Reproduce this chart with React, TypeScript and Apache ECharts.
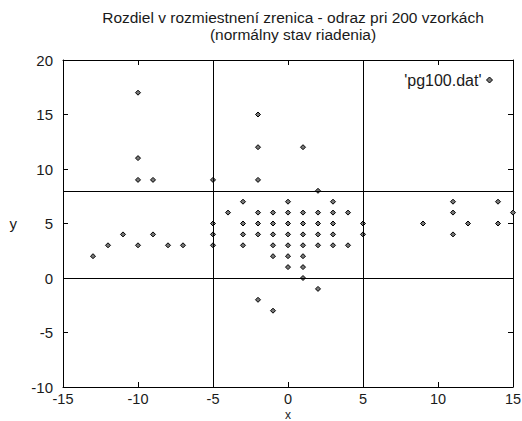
import React, { useEffect, useRef } from "react";
import * as echarts from "echarts";

const xValues = [
  -13, -12, -11, -10, -10, -10, -10, -9, -9, -8, -7,
  -5, -5, -5, -5,
  -4,
  -3, -3, -3, -3,
  -2, -2, -2, -2, -2, -2, -2,
  -1, -1, -1, -1, -1, -1,
  0, 0, 0, 0, 0, 0, 0,
  1, 1, 1, 1, 1, 1, 1, 1,
  2, 2, 2, 2, 2, 2,
  3, 3, 3, 3, 3,
  4, 4,
  5, 5,
  9, 11, 11, 11, 12, 14, 14, 15,
];
const yValues = [
  2, 3, 4, 17, 11, 9, 3, 9, 4, 3, 3,
  9, 5, 4, 3,
  6,
  7, 5, 4, 3,
  15, 12, 9, 6, 5, 4, -2,
  6, 5, 4, 3, 2, -3,
  7, 6, 5, 4, 3, 2, 1,
  12, 6, 5, 4, 3, 2, 1, 0,
  8, 6, 5, 4, 3, -1,
  7, 6, 5, 4, 3,
  6, 3,
  5, 4,
  5, 7, 6, 4, 5, 7, 5, 6,
];
const xRefLines = [-5, 5];
const yRefLines = [0, 8];
const seriesName = "'pg100.dat'";
const titleLines = [
  "Rozdiel v rozmiestnení zrenica - odraz pri 200 vzorkách",
  "(normálny stav riadenia)",
];

const FONT = "'Liberation Sans', Arial, sans-serif";
const TXT = "#1a1a1a";

export default function App() {
  const ref = useRef<HTMLDivElement>(null);
  useEffect(() => {
    if (!ref.current) return;
    const chart = echarts.init(ref.current, null, { renderer: "svg" });
    const axisCommon = {
      type: "value" as const,
      axisLine: { show: true, onZero: false, lineStyle: { color: "#000", width: 1 } },
      axisTick: { show: true, inside: true, length: 5, lineStyle: { color: "#000" } },
      splitLine: { show: false },
    };
    const points = xValues.map((x, i) => [x, yValues[i]]);
    chart.setOption({
      animation: false,
      backgroundColor: "#fff",
      textStyle: { fontFamily: FONT },
      title: {
        text: titleLines.join("\n"),
        left: 288,
        top: 4,
        textAlign: "center",
        textStyle: { fontFamily: FONT, fontSize: 15.5, fontWeight: "normal", color: TXT, lineHeight: 17 },
      },
      legend: {
        data: [seriesName],
        right: 24,
        top: 67,
        align: "right",
        itemWidth: 6,
        itemHeight: 6,
        itemGap: 6,
        icon: "diamond",
        textStyle: { fontFamily: FONT, fontSize: 16, color: TXT },
        itemStyle: { color: "#777", borderColor: "#000", borderWidth: 1 },
      },
      grid: { left: 63, right: 9, top: 60, bottom: 34, containLabel: false, outerBoundsMode: "none" },
      xAxis: [
        {
          ...axisCommon,
          position: "bottom",
          min: -15,
          max: 15,
          interval: 5,
          name: "x",
          nameLocation: "middle",
          nameGap: 23,
          nameMoveOverlap: false,
          nameTextStyle: { fontFamily: FONT, fontSize: 12, color: TXT, lineHeight: 10 },
          axisLabel: { fontFamily: FONT, fontSize: 14.5, color: TXT, margin: 5, lineHeight: 14 },
        },
        {
          ...axisCommon,
          position: "top",
          min: -15,
          max: 15,
          interval: 5,
          axisLabel: { show: false },
        },
      ],
      yAxis: [
        {
          ...axisCommon,
          position: "left",
          min: -10,
          max: 20,
          interval: 5,
          name: "y",
          nameLocation: "middle",
          nameRotate: 0,
          nameGap: 46,
          nameMoveOverlap: false,
          nameTextStyle: { fontFamily: FONT, fontSize: 15, color: TXT },
          axisLabel: { fontFamily: FONT, fontSize: 15, color: TXT, margin: 10 },
        },
        {
          ...axisCommon,
          position: "right",
          min: -10,
          max: 20,
          interval: 5,
          axisLabel: { show: false },
        },
      ],
      series: [
        {
          name: seriesName,
          type: "scatter",
          data: points,
          symbol: "diamond",
          symbolSize: 5,
          clip: false,
          itemStyle: { color: "#777", borderColor: "#000", borderWidth: 1, opacity: 1 },
          markLine: {
            silent: true,
            symbol: "none",
            animation: false,
            label: { show: false },
            lineStyle: { color: "#000", type: "solid", width: 1 },
            data: [
              ...xRefLines.map((v) => ({ xAxis: v })),
              ...yRefLines.map((v) => ({ yAxis: v })),
            ],
          },
        },
      ],
    });
    return () => chart.dispose();
  }, []);
  return <div ref={ref} style={{ width: 522, height: 421, position: "absolute", left: 0, top: 0 }} />;
}
